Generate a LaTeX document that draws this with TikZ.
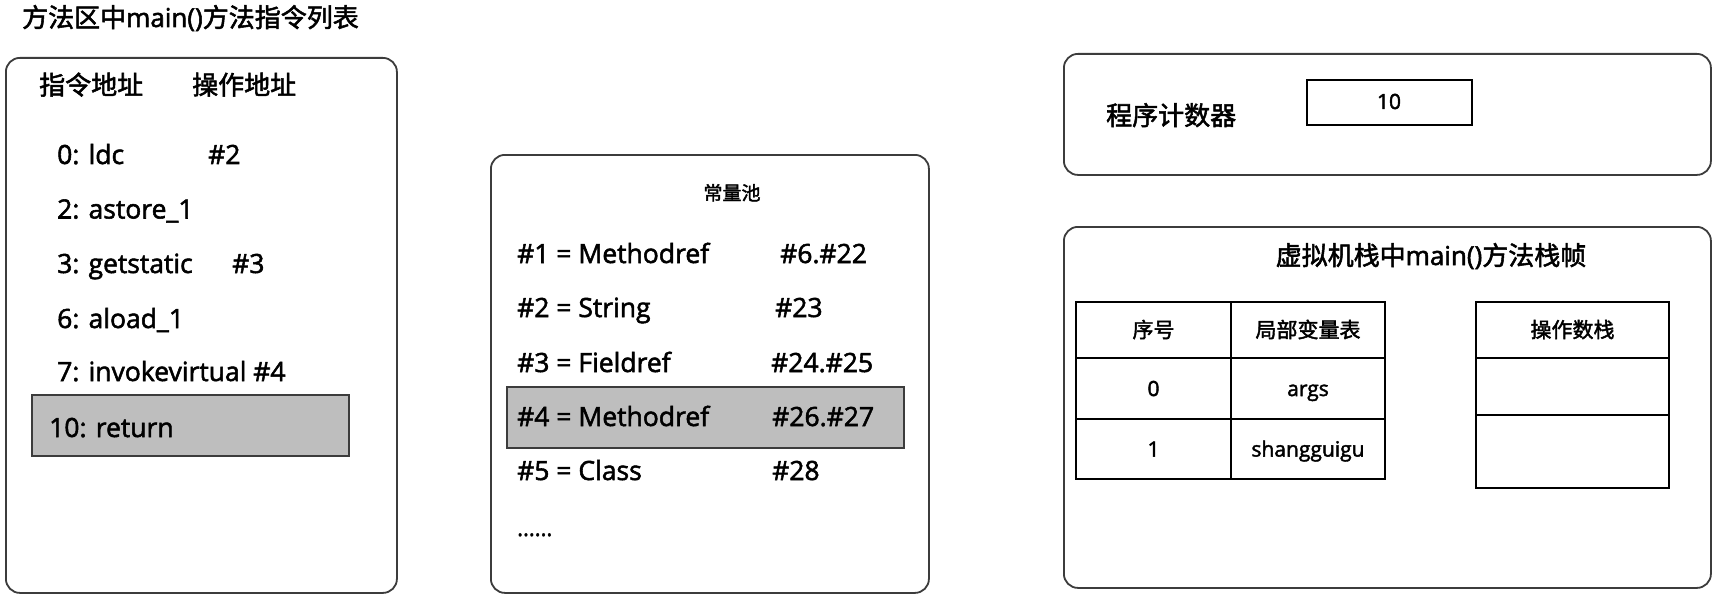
\documentclass[tikz,border=0pt]{standalone}
\usepackage{fontspec}
\setmainfont{Open Sans}[FakeBold=2]
\newfontfamily\cjk{Noto Sans CJK SC}[FakeBold=2]
\definecolor{linec}{RGB}{60,60,60}
\definecolor{hlgray}{RGB}{190,190,190}
\begin{document}
\begin{tikzpicture}[x=1pt,y=-1pt,
  panel/.style={draw=linec, line width=1.8pt, rounded corners=14pt, anchor=north west, inner sep=0pt},
  hlbox/.style={draw=linec, fill=hlgray, line width=1.8pt, anchor=north west, inner sep=0pt},
  cell/.style={draw=black, line width=2pt, anchor=north west, inner sep=0pt, text height=18.5pt, text depth=3.4pt, font=\fontsize{21}{24}\selectfont},
  lt/.style={inner sep=0pt, anchor=base west, font=\fontsize{26.5}{30}\selectfont},
  cj/.style={inner sep=0pt, anchor=base west, font=\fontsize{26}{30}\selectfont}
]
\useasboundingbox (0,0) rectangle (1715,599);
\fill[white] (0,0) rectangle (1715,599);

% ---------- method area ----------
\node[cj] (ttl) at (22,27) {{\cjk 方法区中}main(){\cjk 方法指令列表}};
\node[panel, minimum width=391, minimum height=535] (marea) at (5,57) {};
\node[cj] (h1) at (39,94.5) {\cjk 指令地址};
\node[cj] (h2) at (192,94.5) {\cjk 操作地址};
\node[lt] (r0) at (57,164) {0: ldc};
\node[lt] (r0b) at (208,164) {\#2};
\node[lt] (r2) at (57,218.5) {2: astore\_1};
\node[lt] (r3) at (57,273) {3: getstatic};
\node[lt] (r3b) at (232,273) {\#3};
\node[lt] (r6) at (57,328) {6: aload\_1};
\node[lt] (r7) at (57,381) {7: invokevirtual \#4};
\node[hlbox, minimum width=317, minimum height=61] (hlret) at (31,394) {};
\node[lt] (r10) at (49,437) {10: return};

% ---------- constant pool ----------
\node[panel, minimum width=438, minimum height=438] (pool) at (490,154) {};
\node[inner sep=0pt, anchor=base, font=\fontsize{19}{22}\selectfont\cjk] (pooltitle) at (732,200) {常量池};
\node[hlbox, minimum width=397, minimum height=61] (hl4) at (506,386) {};
\node[lt] (c1) at (517,263) {\#1 = Methodref};
\node[lt] (c1b) at (780,263) {\#6.\#22};
\node[lt] (c2) at (517,317) {\#2 = String};
\node[lt] (c2b) at (775,317) {\#23};
\node[lt] (c3) at (517,372) {\#3 = Fieldref};
\node[lt] (c3b) at (771,372) {\#24.\#25};
\node[lt] (c4) at (517,426) {\#4 = Methodref};
\node[lt] (c4b) at (772,426) {\#26.\#27};
\node[lt] (c5) at (517,480) {\#5 = Class};
\node[lt] (c5b) at (772,480) {\#28};
\node[inner sep=0pt, anchor=base west, font=\fontsize{22}{26}\selectfont] (cdots) at (517,536) {......};

% ---------- program counter ----------
\node[panel, minimum width=647, minimum height=121] (pc) at (1063,53) {};
\node[cj] (pclabel) at (1106,125) {\cjk 程序计数器};
\node[draw=black, line width=1.6pt, anchor=north west, inner sep=0pt, minimum width=165, minimum height=45] (pcval) at (1306,79) {};
\node[inner sep=0pt, anchor=base, font=\fontsize{21}{24}\selectfont] (pcnum) at (1389,109) {10};

% ---------- stack frame ----------
\node[panel, minimum width=647, minimum height=361] (frame) at (1063,226) {};
\node[inner sep=0pt, anchor=base, font=\fontsize{26}{30}\selectfont] (frametitle) at (1431,265) {{\cjk 虚拟机栈中}main(){\cjk 方法栈帧}};
\node[cell, minimum width=155, minimum height=56] (t11) at (1075,301) {\cjk 序号};
\node[cell, minimum width=154, minimum height=56] (t12) at (1230,301) {\cjk 局部变量表};
\node[cell, minimum width=155, minimum height=61] (t21) at (1075,357) {0};
\node[cell, minimum width=154, minimum height=61] (t22) at (1230,357) {args};
\node[cell, minimum width=155, minimum height=60] (t31) at (1075,418) {1};
\node[cell, minimum width=154, minimum height=60] (t32) at (1230,418) {shangguigu};
\node[cell, minimum width=193, minimum height=56] (s1) at (1475,301) {\cjk 操作数栈};
\node[cell, minimum width=193, minimum height=57] (s2) at (1475,357) {};
\node[cell, minimum width=193, minimum height=73] (s3) at (1475,414) {};
\end{tikzpicture}
\end{document}
